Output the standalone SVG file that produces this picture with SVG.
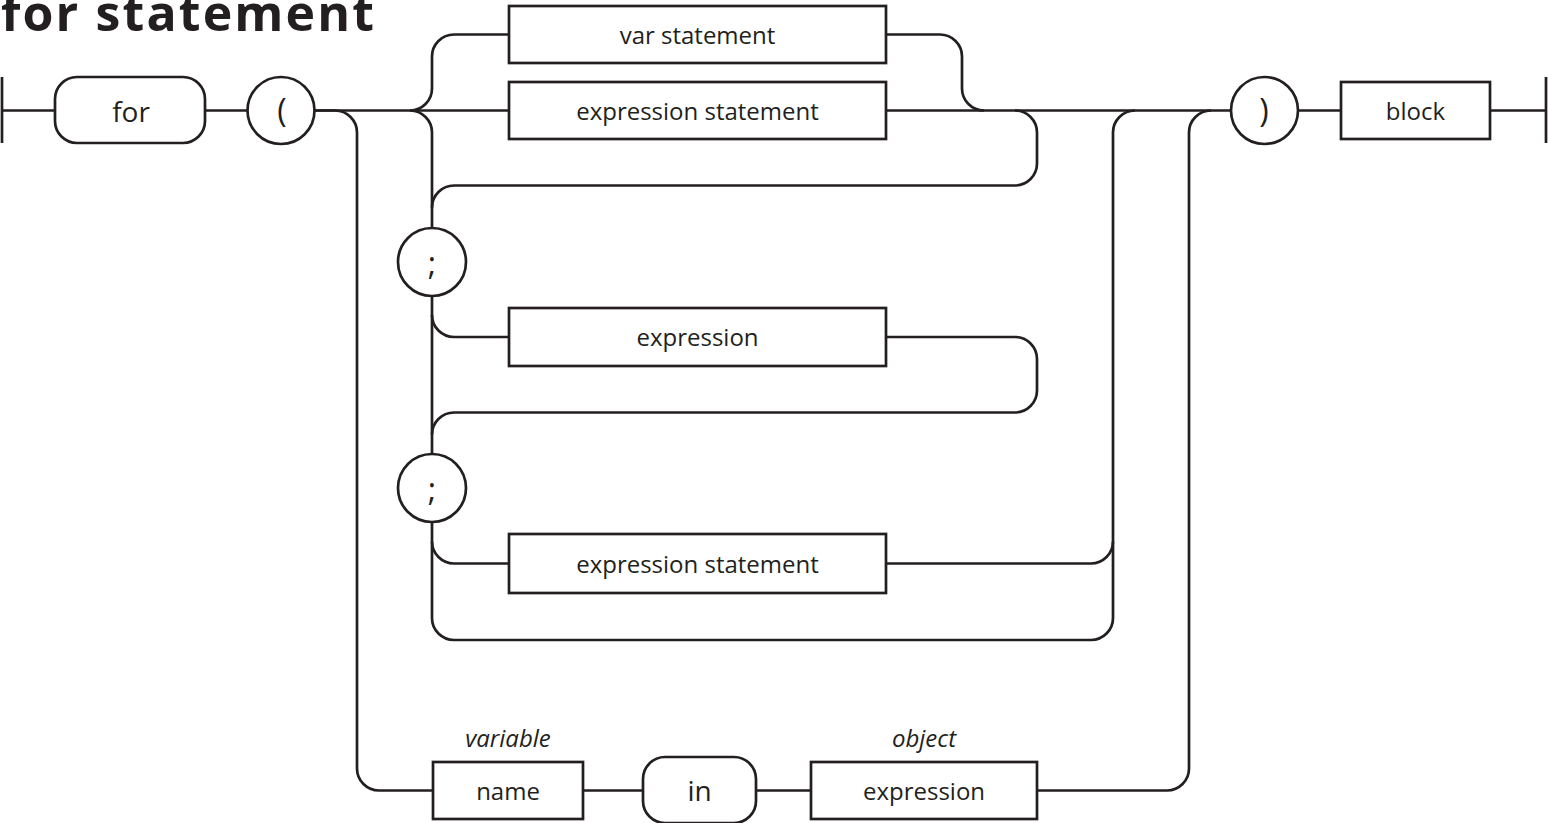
<svg xmlns="http://www.w3.org/2000/svg" width="1548" height="823" viewBox="0 0 1548 823">
<style>
.ln{fill:none;stroke:#231f20;stroke-width:2.7}
.bx{fill:#fff;stroke:#231f20;stroke-width:2.7}
.t{font-family:"Open Sans","Liberation Sans",sans-serif;font-size:24px;fill:#231f20;text-anchor:middle}
.k{font-size:28px}
.p{font-size:32px}
.i{font-style:italic}
.title{font-family:"Open Sans","Liberation Sans",sans-serif;font-weight:bold;font-size:50px;fill:#231f20}
</style>
<rect width="1548" height="823" fill="#fff"/>
<text class="title" x="1" y="31" textLength="373" lengthAdjust="spacing">for statement</text>
<g id="connectors">
<path class="ln" d="M2 77V143M1546 77V143M2 110.5H1546"/>
<path class="ln" d="M410 110.5A22 22 0 0 0 432 88.5V56.5A22 22 0 0 1 454 34.5H940A22 22 0 0 1 962 56.5V88.5A22 22 0 0 0 984 110.5"/>
<path class="ln" d="M410 110.5A22 22 0 0 1 432 132.5V618A22 22 0 0 0 454 640H1091A22 22 0 0 0 1113 618V132.5A22 22 0 0 1 1135 110.5"/>
<path class="ln" d="M1015 110.5A22 22 0 0 1 1037 132.5V163.5A22 22 0 0 1 1015 185.5H454A22 22 0 0 0 432 207.5"/>
<path class="ln" d="M432 315A22 22 0 0 0 454 337H509"/>
<path class="ln" d="M886 337H1015A22 22 0 0 1 1037 359V390.5A22 22 0 0 1 1015 412.5H454A22 22 0 0 0 432 434.5"/>
<path class="ln" d="M432 541.5A22 22 0 0 0 454 563.5H509"/>
<path class="ln" d="M886 563.5H1091A22 22 0 0 0 1113 541.5"/>
<path class="ln" d="M314 110.5H335A22 22 0 0 1 357 132.5V768.5A22 22 0 0 0 379 790.5H1167A22 22 0 0 0 1189 768.5V132.5A22 22 0 0 1 1211 110.5"/>
</g>
<g id="for"><rect class="bx" x="55" y="77" width="150" height="66" rx="22"/><text class="t k" x="131" y="122">for</text></g>
<g id="lparen"><circle class="bx" cx="281" cy="110.5" r="33.5"/><text class="t p" x="282" y="122">(</text></g>
<g id="var-statement"><rect class="bx" x="509" y="6" width="377" height="57"/><text class="t" x="697.5" y="43.5">var statement</text></g>
<g id="expression-statement-1"><rect class="bx" x="509" y="82" width="377" height="57"/><text class="t" x="697.5" y="119.5">expression statement</text></g>
<g id="semicolon-1"><circle class="bx" cx="432" cy="262" r="34"/><text class="t p" x="432" y="275">;</text></g>
<g id="expression"><rect class="bx" x="509" y="308" width="377" height="58"/><text class="t" x="697.5" y="346">expression</text></g>
<g id="semicolon-2"><circle class="bx" cx="432" cy="488" r="34"/><text class="t p" x="432" y="501">;</text></g>
<g id="expression-statement-2"><rect class="bx" x="509" y="534" width="377" height="59"/><text class="t" x="697.5" y="572.5">expression statement</text></g>
<g id="name"><text class="t i" x="508" y="747">variable</text><rect class="bx" x="433" y="762" width="150" height="57"/><text class="t" x="508" y="800">name</text></g>
<g id="in"><rect class="bx" x="643" y="757" width="113" height="66" rx="22"/><text class="t k" x="699.5" y="801">in</text></g>
<g id="object-expression"><text class="t i" x="924" y="747">object</text><rect class="bx" x="811" y="762" width="226" height="57"/><text class="t" x="924" y="800">expression</text></g>
<g id="rparen"><circle class="bx" cx="1264.5" cy="110.5" r="33.5"/><text class="t p" x="1264" y="122">)</text></g>
<g id="block"><rect class="bx" x="1341" y="82" width="149" height="57"/><text class="t" x="1415.5" y="119.5">block</text></g>
</svg>
